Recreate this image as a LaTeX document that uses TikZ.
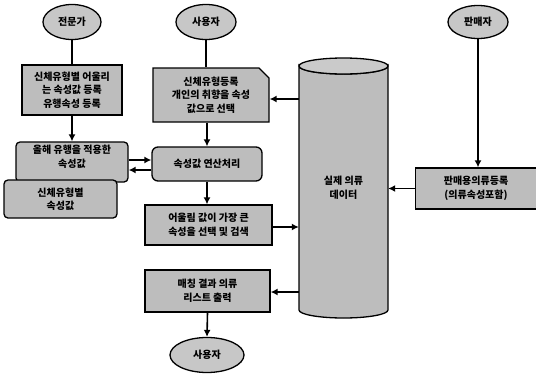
\documentclass[tikz,border=0pt]{standalone}
\usepackage{fontspec}
\setmainfont{Noto Sans CJK KR}
\usetikzlibrary{shapes.geometric,shapes.misc,arrows.meta}
\definecolor{boxfill}{gray}{0.74}
\tikzset{
  base/.style={draw=black, line width=1.3pt, fill=boxfill, inner sep=0pt, align=center, font=\fontsize{10}{13.5}\selectfont\bfseries},
  box/.style={base, rectangle},
  rbox/.style={base, rectangle, rounded corners=4pt},
  oval/.style={base, ellipse, fill=boxfill!85!white},
  conn/.style={line width=1.6pt},
  arr/.style={line width=1.6pt, -{Latex[length=7pt,width=7pt]}},
}
\begin{document}
\begin{tikzpicture}[x=1pt,y=-1pt]
\useasboundingbox (0,0) rectangle (536,378);
% ovals
\node[oval, minimum width=58pt, minimum height=35pt] (ex) at (72,22) {전문가};
\node[oval, minimum width=60pt, minimum height=35pt] (u1) at (206,22) {사용자};
\node[oval, minimum width=60pt, minimum height=33pt] (se) at (478,22) {판매자};
\node[oval, minimum width=74pt, minimum height=35pt] (u2) at (207,355) {사용자};
% boxes
\node[box, minimum width=100pt, minimum height=50pt] (b1) at (72,90) {신체유형별 어울리\\는 속성값 등록\\유행속성 등록};
\node[base, chamfered rectangle, chamfered rectangle corners=north east, chamfered rectangle xsep=5pt, chamfered rectangle ysep=5pt, minimum width=116pt, minimum height=54pt] (b2) at (211,95) {신체유형등록\\개인의 취향을 속성\\값으로 선택};
\node[rbox, minimum width=112pt, minimum height=40pt] (b3) at (72,162) {올해 유행을 적용한\\속성값\\[-2pt]};
\node[rbox, minimum width=113pt, minimum height=38pt] (b4) at (60.5,199) {신체유형별\\속성값};
\node[rbox, rounded corners=6pt, minimum width=110pt, minimum height=34pt] (b5) at (207,164) {속성값 연산처리};
\node[box, minimum width=127pt, minimum height=40pt] (b6) at (208.5,225) {어울림 값이 가장 큰\\속성을 선택 및 검색};
\node[box, minimum width=125pt, minimum height=42pt] (b7) at (207.5,291) {매칭 결과 의류\\리스트 출력};
\node[box, minimum width=121pt, minimum height=41pt] (b8) at (476,188.5) {판매용의류등록\\(의류속성포함)};
% cylinder
\draw[line width=1.3pt, fill=boxfill] (299,66) -- (299,310) arc[start angle=180, end angle=360, x radius=44.5pt, y radius=8pt] -- (388,66) arc[start angle=0, end angle=-180, x radius=44.5pt, y radius=8pt] -- cycle;
\draw[line width=1.3pt, fill=boxfill!80!white] (343.5,66) ellipse[x radius=44.5pt, y radius=8pt];
\node[inner sep=0pt, minimum width=89pt, minimum height=244pt, align=center, font=\fontsize{10}{13.5}\selectfont\bfseries] (db) at (343.5,188) {실제 의류\\데이터};
% connectors
\draw[conn] (ex.south) -- (b1.north);
\draw[conn] (u1.south) -- (u1.south |- b2.north);
\draw[arr] (se.south) -- (se.south |- b8.north);
\draw[arr] (b1.south) -- (b3.north);
\draw[arr] (b2.south -| b5.north) -- (b5.north);
\draw[arr] (b3.east |- 0,160) -- (b5.west |- 0,160);
\draw[arr] (b5.west |- 0,170) -- (b3.east |- 0,170);
\draw[arr] (b5.south) -- (b5.south |- b6.north);
\draw[arr] (b7.south) -- (u2.north);
\draw[arr] (db.west |- 0,99) -- (b2.east |- 0,99);
\draw[arr] (b6.east |- 0,227) -- (db.west |- 0,227);
\draw[arr] (db.west |- 0,292) -- (b7.east |- 0,292);
\draw[arr] (b8.west) -- (db.east |- b8.west);
\end{tikzpicture}
\end{document}
